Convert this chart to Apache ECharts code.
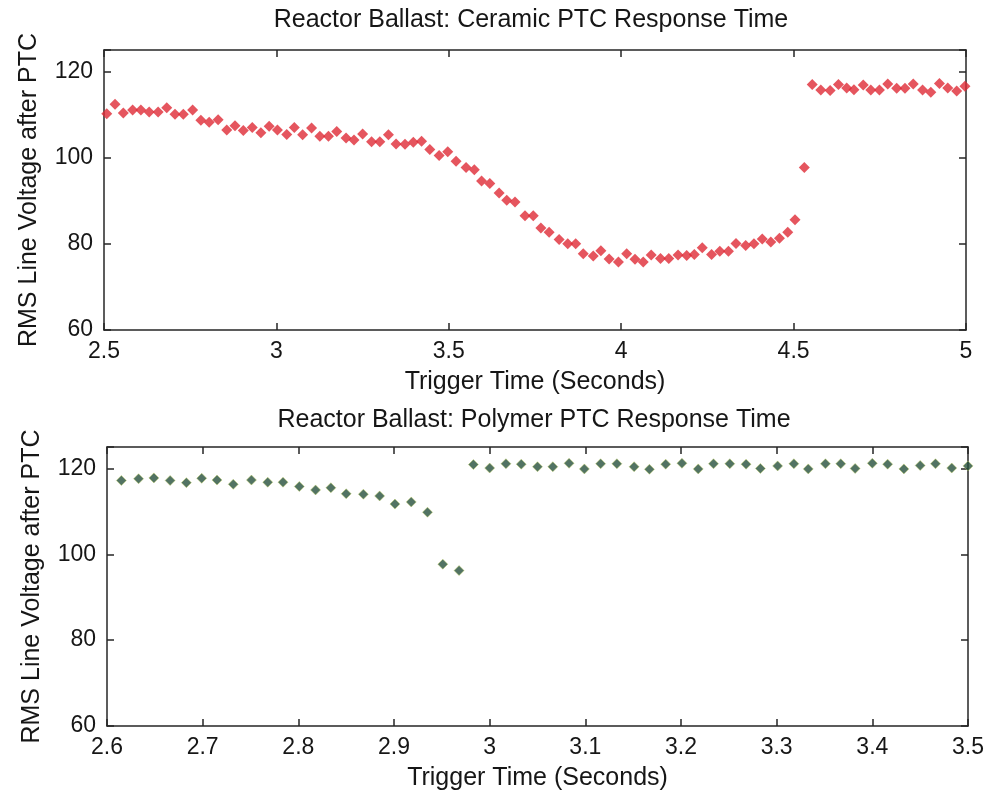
<!DOCTYPE html>
<html>
<head>
<meta charset="utf-8">
<script src="https://cdn.jsdelivr.net/npm/echarts@6/dist/echarts.min.js"></script>
<style>
  html, body { margin: 0; padding: 0; background: #ffffff; }
  #chart { width: 992px; height: 802px; }
</style>
</head>
<body>
<div id="chart"></div>
<script>
// ---- Data ----
const topTitle = 'Reactor Ballast: Ceramic PTC Response Time';
const bottomTitle = 'Reactor Ballast: Polymer PTC Response Time';
const xName = 'Trigger Time (Seconds)';
const yName = 'RMS Line Voltage after PTC';

const topTime = [2.508,2.532,2.556,2.583,2.607,2.631,2.657,2.682,2.706,2.730,
  2.757,2.781,2.805,2.831,2.856,2.880,2.904,2.930,2.955,2.979,
  3.003,3.030,3.052,3.076,3.102,3.126,3.151,3.175,3.202,3.225,
  3.250,3.276,3.300,3.325,3.347,3.373,3.397,3.421,3.445,3.472,
  3.497,3.521,3.550,3.574,3.595,3.619,3.646,3.668,3.692,3.721,
  3.745,3.767,3.791,3.820,3.845,3.868,3.890,3.919,3.941,3.965,
  3.992,4.016,4.040,4.064,4.087,4.114,4.138,4.165,4.190,4.212,
  4.235,4.262,4.286,4.311,4.333,4.361,4.385,4.409,4.434,4.459,
  4.483,4.504,4.531,4.554,4.579,4.606,4.630,4.654,4.675,4.702,
  4.724,4.749,4.773,4.799,4.823,4.847,4.874,4.898,4.923,4.947,
  4.973,4.997];
const topVoltage = [110.2,112.4,110.4,111.1,111.1,110.6,110.6,111.6,110.1,110.1,
  111.1,108.7,108.2,108.8,106.4,107.4,106.3,107.0,105.8,107.3,
  106.4,105.4,107.0,105.3,106.9,105.0,105.0,106.1,104.6,104.1,
  105.5,103.7,103.7,105.3,103.2,103.1,103.6,103.8,101.9,100.5,
  101.4,99.2,97.7,97.2,94.6,94.0,91.8,90.1,89.7,86.5,
  86.5,83.7,82.7,81.0,80.0,80.0,77.7,77.2,78.4,76.5,
  75.8,77.7,76.4,75.8,77.4,76.6,76.6,77.4,77.3,77.5,
  79.1,77.5,78.3,78.3,80.1,79.6,80.0,81.1,80.4,81.3,
  82.7,85.6,97.7,117.0,115.7,115.6,117.0,116.2,115.8,116.9,
  115.7,115.7,117.1,116.1,116.1,117.1,115.7,115.2,117.2,116.2,
  115.5,116.6];

const bottomTime = [2.615,2.633,2.649,2.666,2.683,2.699,2.715,2.732,2.751,2.768,
  2.784,2.801,2.818,2.834,2.850,2.868,2.885,2.901,2.918,2.935,
  2.951,2.968,2.983,3.000,3.017,3.033,3.050,3.066,3.083,3.099,
  3.116,3.133,3.151,3.167,3.184,3.201,3.218,3.234,3.251,3.268,
  3.283,3.301,3.318,3.333,3.351,3.367,3.382,3.400,3.416,3.433,
  3.450,3.466,3.483,3.500];
const bottomVoltage = [117.2,117.6,117.8,117.2,116.7,117.7,117.3,116.3,117.3,116.8,
  116.8,115.8,115.0,115.5,114.1,114.0,113.6,111.7,112.2,109.8,
  97.7,96.2,120.9,120.1,121.1,121.0,120.4,120.4,121.2,119.9,
  121.1,121.1,120.4,119.8,121.0,121.2,119.9,121.1,121.1,121.0,
  120.0,120.6,121.1,119.9,121.1,121.1,120.0,121.2,121.0,119.9,
  120.7,121.1,120.1,120.6];

const yTicks = [60, 80, 100, 120];
const topXRange = [2.5, 5, 0.5];
const bottomXRange = [2.6, 3.5, 0.1];
const yRange = [60, 125, 20];

// ---- Styling ----
const FONT = 'Liberation Sans, Arial, Helvetica, sans-serif';
const TEXT = '#161616';
const AXIS = '#262626';

function pairs(xs, ys) { return xs.map((x, i) => [x, ys[i]]); }

function xAx(gridIndex, range, pos, withLabels) {
  return {
    type: 'value', gridIndex: gridIndex, position: pos,
    min: range[0], max: range[1], interval: range[2],
    name: withLabels ? xName : '',
    nameLocation: 'middle', nameGap: 40,
    nameTextStyle: { fontFamily: FONT, fontSize: 25, color: TEXT },
    axisLine: { show: true, onZero: false, lineStyle: { color: AXIS, width: 1.5 } },
    axisTick: { show: true, inside: true, length: 7, lineStyle: { color: AXIS, width: 1.5 } },
    axisLabel: { show: withLabels, margin: 10, fontFamily: FONT, fontSize: 23, color: TEXT,
      formatter: v => String(+v.toFixed(2)) },
    splitLine: { show: false }
  };
}
function yAx(gridIndex, pos, withLabels) {
  return {
    type: 'value', gridIndex: gridIndex, position: pos,
    min: yRange[0], max: yRange[1], interval: yRange[2],
    name: withLabels ? yName : '',
    nameLocation: 'middle', nameGap: 62,
    nameTextStyle: { fontFamily: FONT, fontSize: 25, color: TEXT },
    axisLine: { show: true, onZero: false, lineStyle: { color: AXIS, width: 1.5 } },
    axisTick: { show: true, inside: true, length: 7, lineStyle: { color: AXIS, width: 1.5 } },
    axisLabel: { show: withLabels, margin: 11, fontFamily: FONT, fontSize: 23, color: TEXT,
      formatter: v => (yTicks.indexOf(Math.round(v)) >= 0 && Math.abs(v - Math.round(v)) < 1e-6) ? String(Math.round(v)) : '' },
    splitLine: { show: false }
  };
}

const chart = echarts.init(document.getElementById('chart'), null, { renderer: 'canvas' });
chart.setOption({
  backgroundColor: '#ffffff',
  animation: false,
  grid: [
    { left: 104, right: 26, top: 50, height: 280, show: true, backgroundColor: '#ffffff', borderWidth: 0 },
    { left: 107, right: 24, top: 447, height: 279, show: true, backgroundColor: '#ffffff', borderWidth: 0 }
  ],
  xAxis: [
    xAx(0, topXRange, 'bottom', true),
    xAx(0, topXRange, 'top', false),
    xAx(1, bottomXRange, 'bottom', true),
    xAx(1, bottomXRange, 'top', false)
  ],
  yAxis: [
    yAx(0, 'left', true),
    yAx(0, 'right', false),
    yAx(1, 'left', true),
    yAx(1, 'right', false)
  ],
  graphic: [
    { type: 'text', x: 531, y: 20,
      style: { text: topTitle, x: 0, y: 0, align: 'center', verticalAlign: 'middle',
        textAlign: 'center', textVerticalAlign: 'middle',
        fontFamily: FONT, fontSize: 25, fill: TEXT } },
    { type: 'text', x: 534, y: 420,
      style: { text: bottomTitle, x: 0, y: 0, align: 'center', verticalAlign: 'middle',
        textAlign: 'center', textVerticalAlign: 'middle',
        fontFamily: FONT, fontSize: 25, fill: TEXT } }
  ],
  series: [
    { type: 'scatter', name: 'Ceramic PTC', xAxisIndex: 0, yAxisIndex: 0,
      symbol: 'diamond', symbolSize: [11, 11], clip: false,
      itemStyle: { color: '#de2b36' },
      data: pairs(topTime, topVoltage) },
    { type: 'scatter', name: 'Polymer PTC', xAxisIndex: 2, yAxisIndex: 2,
      symbol: 'diamond', symbolSize: [10, 10], clip: false,
      itemStyle: { color: '#27503c', borderColor: '#c3d06a', borderWidth: 0.6 },
      data: pairs(bottomTime, bottomVoltage) }
  ]
});
</script>
</body>
</html>
